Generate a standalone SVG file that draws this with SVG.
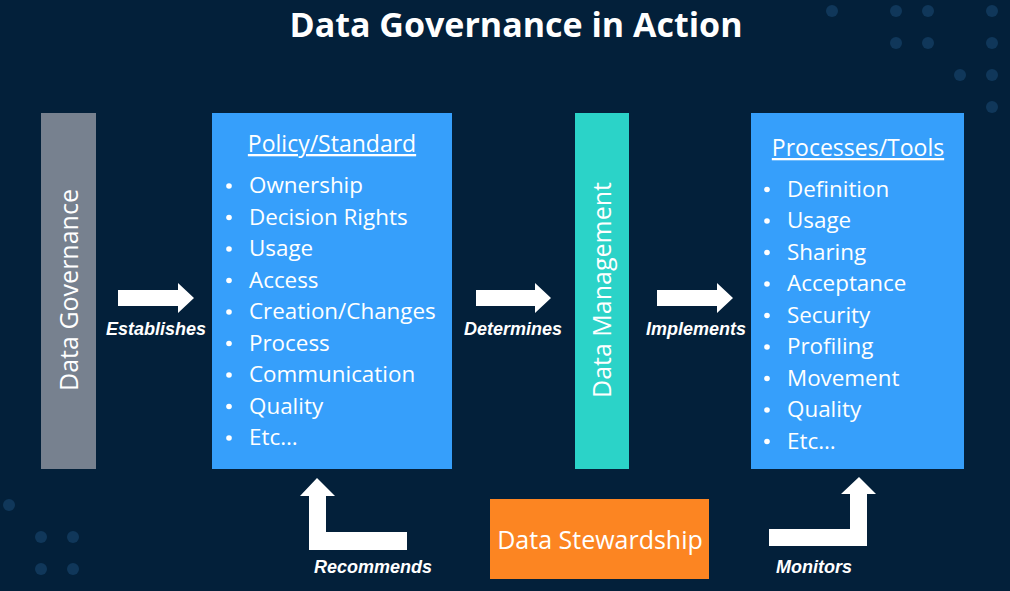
<svg xmlns="http://www.w3.org/2000/svg" width="1010" height="591" viewBox="0 0 1010 591">
<style>
.t{font-family:"Open Sans","Noto Sans",sans-serif;fill:#ffffff}
.item{font-family:"Open Sans","Noto Sans",sans-serif;fill:#ffffff;font-size:22.4px}
.hd{font-family:"Open Sans","Noto Sans",sans-serif;fill:#ffffff;font-size:23px;text-decoration:underline}
.lbl{font-family:"Liberation Sans",Arial,sans-serif;font-weight:bold;font-style:italic;fill:#ffffff;font-size:18px}
.dot{fill:#10375a}
.arrow{fill:#ffffff}
.bul{fill:#ffffff}
</style>
<rect width="1010" height="591" fill="#03203a"/>
<g id="dots">
<circle class="dot" cx="832" cy="11" r="6"/><circle class="dot" cx="896" cy="11" r="6"/><circle class="dot" cx="928" cy="11" r="6"/><circle class="dot" cx="992" cy="11" r="6"/>
<circle class="dot" cx="896" cy="43" r="6"/><circle class="dot" cx="928" cy="43" r="6"/><circle class="dot" cx="992" cy="43" r="6"/>
<circle class="dot" cx="960" cy="75" r="6"/><circle class="dot" cx="992" cy="75" r="6"/><circle class="dot" cx="992" cy="107" r="6"/>
<circle class="dot" cx="9" cy="505" r="6"/><circle class="dot" cx="41" cy="537" r="6"/><circle class="dot" cx="73" cy="537" r="6"/><circle class="dot" cx="41" cy="569" r="6"/><circle class="dot" cx="73" cy="569" r="6"/>
</g>
<text class="t" x="516" y="37" font-size="34" font-weight="bold" text-anchor="middle">Data Governance in Action</text>
<g id="data-governance">
<rect x="41" y="113" width="55" height="356" fill="#77818f"/>
<text class="t" transform="translate(78,290) rotate(-90)" font-size="25" text-anchor="middle" fill="#eef1f4">Data Governance</text>
</g>
<g id="policy-standard">
<rect x="212" y="113" width="240" height="356" fill="#369ffb"/>
<text class="hd" x="332" y="152" text-anchor="middle">Policy/Standard</text>
<g>
<circle class="bul" cx="229" cy="186" r="2.8"/><text class="item" x="249" y="193">Ownership</text>
<circle class="bul" cx="229" cy="217.5" r="2.8"/><text class="item" x="249" y="224.5">Decision Rights</text>
<circle class="bul" cx="229" cy="249" r="2.8"/><text class="item" x="249" y="256">Usage</text>
<circle class="bul" cx="229" cy="280.5" r="2.8"/><text class="item" x="249" y="287.5">Access</text>
<circle class="bul" cx="229" cy="312" r="2.8"/><text class="item" x="249" y="319">Creation/Changes</text>
<circle class="bul" cx="229" cy="343.5" r="2.8"/><text class="item" x="249" y="350.5">Process</text>
<circle class="bul" cx="229" cy="375" r="2.8"/><text class="item" x="249" y="382">Communication</text>
<circle class="bul" cx="229" cy="406.5" r="2.8"/><text class="item" x="249" y="413.5">Quality</text>
<circle class="bul" cx="229" cy="438" r="2.8"/><text class="item" x="249" y="445">Etc…</text>
</g>
</g>
<g id="data-management">
<rect x="575" y="113" width="54" height="356" fill="#2bd3c8"/>
<text class="t" transform="translate(611,290) rotate(-90)" font-size="25" text-anchor="middle">Data Management</text>
</g>
<g id="processes-tools">
<rect x="751" y="113" width="213" height="356" fill="#369ffb"/>
<text class="hd" x="858" y="156" text-anchor="middle">Processes/Tools</text>
<g>
<circle class="bul" cx="767" cy="189.5" r="2.8"/><text class="item" x="787" y="196.5">Definition</text>
<circle class="bul" cx="767" cy="221" r="2.8"/><text class="item" x="787" y="228">Usage</text>
<circle class="bul" cx="767" cy="252.5" r="2.8"/><text class="item" x="787" y="259.5">Sharing</text>
<circle class="bul" cx="767" cy="284" r="2.8"/><text class="item" x="787" y="291">Acceptance</text>
<circle class="bul" cx="767" cy="315.5" r="2.8"/><text class="item" x="787" y="322.5">Security</text>
<circle class="bul" cx="767" cy="347" r="2.8"/><text class="item" x="787" y="354">Profiling</text>
<circle class="bul" cx="767" cy="378.5" r="2.8"/><text class="item" x="787" y="385.5">Movement</text>
<circle class="bul" cx="767" cy="410" r="2.8"/><text class="item" x="787" y="417">Quality</text>
<circle class="bul" cx="767" cy="441.5" r="2.8"/><text class="item" x="787" y="448.5">Etc…</text>
</g>
</g>
<g id="data-stewardship">
<rect x="490" y="499" width="219" height="80" fill="#fc8522"/>
<text class="t" x="600" y="549" font-size="25" text-anchor="middle">Data Stewardship</text>
</g>
<g id="connectors">
<polygon class="arrow" points="118,290 178,290 178,283 194,298 178,313 178,306 118,306"/>
<text class="lbl" x="156" y="335" text-anchor="middle">Establishes</text>
<polygon class="arrow" points="476,290 535,290 535,283 551,298 535,313 535,306 476,306"/>
<text class="lbl" x="513" y="335" text-anchor="middle">Determines</text>
<polygon class="arrow" points="657,290 717,290 717,283 733,298 717,313 717,306 657,306"/>
<text class="lbl" x="696" y="335" text-anchor="middle">Implements</text>
<polygon class="arrow" points="407,532 326,532 326,496 335,496 317,478 300,496 309,496 309,550 407,550"/>
<text class="lbl" x="373" y="573" text-anchor="middle">Recommends</text>
<polygon class="arrow" points="769,529 850,529 850,494 841,494 859,477 876,494 867,494 867,546 769,546"/>
<text class="lbl" x="814" y="573" text-anchor="middle">Monitors</text>
</g>
</svg>
